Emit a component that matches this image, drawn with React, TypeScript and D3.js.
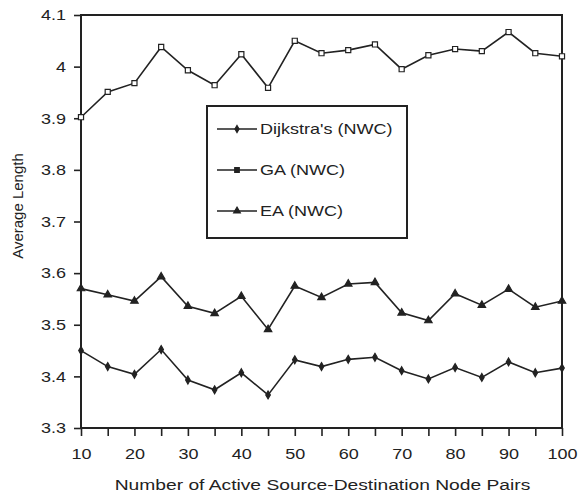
import React, { useEffect, useRef } from "react";
import * as d3 from "d3";

// pares origem-destino (eixo x)
const pairs = [10, 15, 20, 25, 30, 35, 40, 45, 50, 55, 60, 65, 70, 75, 80, 85, 90, 95, 100];
const xLabelTicks = [10, 20, 30, 40, 50, 60, 70, 80, 90, 100];
const yTicks = [3.3, 3.4, 3.5, 3.6, 3.7, 3.8, 3.9, 4.0, 4.1];
const yTickLabels = ["3.3", "3.4", "3.5", "3.6", "3.7", "3.8", "3.9", "4", "4.1"];

const dijkstra = [3.45, 3.419, 3.404, 3.452, 3.393, 3.374, 3.407, 3.364, 3.432, 3.419, 3.433, 3.437, 3.411, 3.395, 3.417, 3.398, 3.428, 3.407, 3.416];
const ga = [3.902, 3.951, 3.968, 4.038, 3.993, 3.964, 4.024, 3.959, 4.05, 4.026, 4.032, 4.043, 3.995, 4.022, 4.034, 4.03, 4.067, 4.026, 4.02];
const ea = [3.57, 3.558, 3.546, 3.593, 3.536, 3.522, 3.555, 3.491, 3.575, 3.553, 3.579, 3.582, 3.523, 3.508, 3.56, 3.538, 3.569, 3.534, 3.546];

const seriesNames = ["Dijkstra's (NWC)", "GA (NWC)", "EA (NWC)"];

const INK = "#222";

const App = () => {
  const svgRef = useRef<SVGSVGElement | null>(null);

  useEffect(() => {
    const width = 579;
    const height = 497;
    const margin = { top: 15, right: 17, bottom: 69, left: 81 };
    const w = width - margin.left - margin.right;
    const h = height - margin.top - margin.bottom;

    const svg = d3.select(svgRef.current).attr("width", width).attr("height", height);
    svg.selectAll("*").remove();

    const g = svg.append("g").attr("transform", `translate(${margin.left},${margin.top})`);

    const x = d3.scaleLinear().domain([10, 100]).range([0, w]);
    const y = d3.scaleLinear().domain([3.3, 4.1]).range([h, 0]);

    const font = "'Liberation Sans', Arial, sans-serif";

    // eixo y
    const yAxis = g
      .append("g")
      .call(
        d3
          .axisLeft(y)
          .tickValues(yTicks)
          .tickSize(7)
          .tickPadding(8)
          .tickFormat((d, i) => yTickLabels[i])
      );
    yAxis.select(".domain").remove();
    yAxis.selectAll("line").attr("stroke", INK).attr("stroke-width", 1.6);
    yAxis.selectAll("text").attr("class", "stretch").style("font-size", "15px").style("font-family", font).attr("fill", INK);

    // eixo x
    const xAxis = g
      .append("g")
      .attr("transform", `translate(0,${h})`)
      .call(
        d3
          .axisBottom(x)
          .tickValues(pairs)
          .tickSize(8)
          .tickPadding(12)
          .tickFormat((d) => (xLabelTicks.includes(d as number) ? String(d) : ""))
      );
    xAxis.select(".domain").remove();
    xAxis.selectAll("line").attr("stroke", INK).attr("stroke-width", 1.6);
    xAxis.selectAll("text").attr("class", "stretch").style("font-size", "15px").style("font-family", font).attr("fill", INK);

    // moldura
    g.append("rect")
      .attr("x", 0)
      .attr("y", 0)
      .attr("width", w)
      .attr("height", h)
      .attr("fill", "none")
      .attr("stroke", INK)
      .attr("stroke-width", 2);

    const series = [
      { name: seriesNames[0], values: dijkstra, symbol: d3.symbolDiamond, size: 18, fill: INK },
      { name: seriesNames[1], values: ga, symbol: d3.symbolSquare, size: 26, fill: "#fff" },
      { name: seriesNames[2], values: ea, symbol: d3.symbolTriangle, size: 24, fill: INK },
    ];

    const line = d3
      .line<number>()
      .x((d, i) => x(pairs[i]))
      .y((d) => y(d));

    series.forEach((s) => {
      g.append("path")
        .datum(s.values)
        .attr("d", line)
        .attr("fill", "none")
        .attr("stroke", INK)
        .attr("stroke-width", 1.6);

      g.selectAll(null)
        .data(s.values)
        .enter()
        .append("path")
        .attr("transform", (d, i) => `translate(${x(pairs[i])},${y(d)})`)
        .attr("d", d3.symbol().type(s.symbol).size(s.size)())
        .attr("fill", s.fill)
        .attr("stroke", INK)
        .attr("stroke-width", 1.2);
    });

    // legenda
    const legend = svg.append("g").attr("transform", "translate(207,106)");
    legend
      .append("rect")
      .attr("width", 200)
      .attr("height", 132)
      .attr("fill", "#fff")
      .attr("stroke", INK)
      .attr("stroke-width", 2);

    series.forEach((s, i) => {
      const ly = 23 + i * 41;
      legend
        .append("line")
        .attr("x1", 10)
        .attr("x2", 50)
        .attr("y1", ly)
        .attr("y2", ly)
        .attr("stroke", INK)
        .attr("stroke-width", 1.6);
      legend
        .append("path")
        .attr("transform", `translate(30,${ly})`)
        .attr("d", d3.symbol().type(s.symbol).size(s.size * 0.8)())
        .attr("fill", INK)
        .attr("stroke", INK)
        .attr("stroke-width", 1.2);
      legend
        .append("text")
        .attr("class", "stretch")
        .attr("x", 53)
        .attr("y", ly)
        .attr("dy", "0.35em")
        .style("font-size", "15px")
        .style("font-family", font)
        .attr("fill", INK)
        .text(s.name);
    });

    // títulos dos eixos
    svg
      .append("text")
      .attr("class", "stretch")
      .attr("x", margin.left + w / 2 + 1)
      .attr("y", 490)
      .attr("text-anchor", "middle")
      .style("font-size", "15.5px")
      .style("font-family", font)
      .attr("fill", INK)
      .text("Number of Active Source-Destination Node Pairs");

    svg
      .append("text")
      .attr("transform", "translate(23,206) rotate(-90)")
      .attr("text-anchor", "middle")
      .style("font-size", "15px")
      .style("font-family", font)
      .attr("fill", INK)
      .text("Average Length");

    // o original está esticado na horizontal
    svg.selectAll<SVGTextElement, unknown>("text.stretch").each(function () {
      const len = this.getComputedTextLength();
      if (len > 0) {
        const k = len > 300 ? 1.24 : 1.2;
        d3.select(this).attr("textLength", len * k).attr("lengthAdjust", "spacingAndGlyphs");
      }
    });
  }, []);

  return <svg ref={svgRef} style={{ position: "absolute", left: 0, top: 0, background: "#fff" }}></svg>;
};

export default App;
